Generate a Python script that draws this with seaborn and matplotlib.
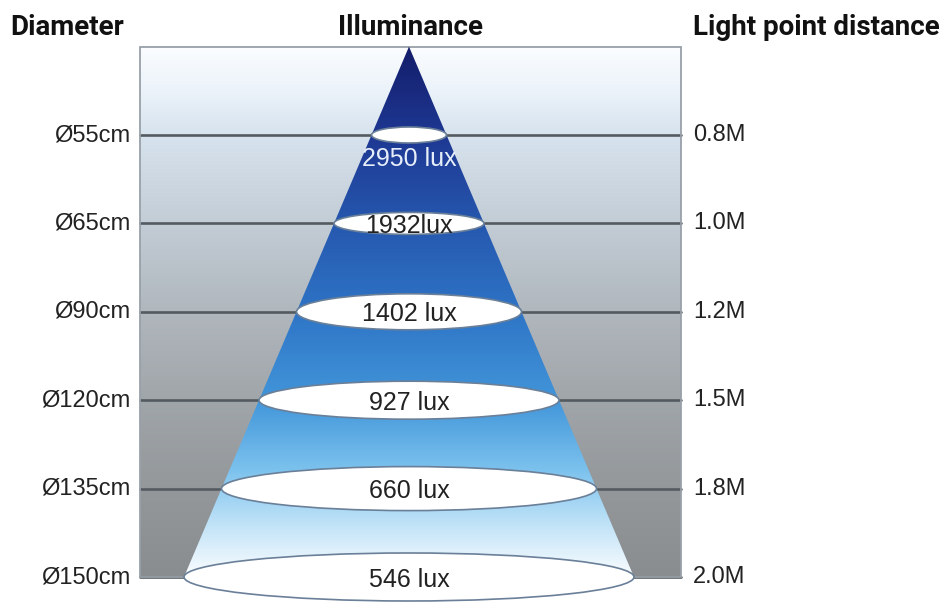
import numpy as np
import pandas as pd
import matplotlib
matplotlib.use("Agg")
import matplotlib.pyplot as plt
import seaborn as sns
from matplotlib.colors import LinearSegmentedColormap
from matplotlib.patches import Polygon, Rectangle, Ellipse

# ---- data ----
headers = ["Diameter", "Illuminance", "Light point distance"]
diameters = ["Ø55cm", "Ø65cm", "Ø90cm", "Ø120cm", "Ø135cm", "Ø150cm"]
illuminance = ["2950 lux", "1932lux", "1402 lux", "927 lux", "660 lux", "546 lux"]
distances = ["0.8M", "1.0M", "1.2M", "1.5M", "1.8M", "2.0M"]

# ---- layout (pixel units on x, row units on y) ----
ROW_PX, ROW0_PX = 88.4, 135
BOX_L, BOX_R = 140, 681
CX = 409
CONE_HALF_BOTTOM = 225
ELL_HALF_H_PX = [8, 11, 18, 19, 22, 24]

sns.set_theme(style="white")
plt.rcParams["font.family"] = ["Liberation Sans", "DejaVu Sans"]

fig = plt.figure(figsize=(9.45, 6.04), dpi=100)
ax = fig.add_axes([0, 0, 1, 1])
ax.axis("off")

rows = np.arange(len(diameters))
top = -1.0
bot = rows[-1]

# background gradient box
bg_cmap = LinearSegmentedColormap.from_list(
    "bg",
    [(0.0, "#fbfdff"), (0.08, "#ecf3fa"), (0.17, "#d6e2ed"), (0.33, "#c3cdd6"),
     (0.5, "#b0b7bd"), (0.67, "#a0a5a9"), (0.83, "#94989b"), (1.0, "#898d90")])
grad = np.linspace(0, 1, 256)[:, None]
ax.imshow(grad, cmap=bg_cmap, extent=(BOX_L, BOX_R, bot, top), origin="upper",
          aspect="auto", zorder=1, interpolation="bicubic")

# horizontal row lines via seaborn
line_df = pd.DataFrame({
    "x": np.tile([BOX_L, BOX_R], len(rows)),
    "y": np.repeat(rows, 2).astype(float),
    "row": np.repeat(rows, 2),
})
sns.lineplot(data=line_df, x="x", y="y", units="row", estimator=None, sort=False,
             color="#545b60", linewidth=1.9, ax=ax, zorder=2, legend=False)

ax.add_patch(Rectangle((BOX_L, top), BOX_R - BOX_L, bot - top, fill=False,
                       edgecolor="#98a0a8", linewidth=1.3, zorder=2.5))

# cone with gradient
cone_cmap = LinearSegmentedColormap.from_list(
    "cone",
    [(0.0, "#141d6a"), (0.17, "#1e3893"), (0.33, "#2657ae"), (0.5, "#2e74c6"),
     (0.67, "#4296da"), (0.8, "#7cc2ee"), (0.9, "#bfe2f7"), (1.0, "#fbfdff")])
cone = Polygon([(CX, top), (CX - CONE_HALF_BOTTOM, bot), (CX + CONE_HALF_BOTTOM, bot)],
               closed=True, facecolor="none", edgecolor="none", zorder=3)
ax.add_patch(cone)
im = ax.imshow(grad, cmap=cone_cmap,
               extent=(CX - CONE_HALF_BOTTOM, CX + CONE_HALF_BOTTOM, bot, top),
               origin="upper", aspect="auto", zorder=3, interpolation="bicubic")
im.set_clip_path(cone)

# ellipses (light spots)
for r, hh in zip(rows, ELL_HALF_H_PX):
    half_w = (r - top) / (bot - top) * CONE_HALF_BOTTOM
    ax.add_patch(Ellipse((CX, r), 2 * half_w, 2 * hh / ROW_PX, facecolor="white",
                         edgecolor="#6a7f98", linewidth=1.2, zorder=4))

# labels
for r, d, lux, dist in zip(rows, diameters, illuminance, distances):
    ax.text(130, r, d, ha="right", va="center", fontsize=17, color="#222222", zorder=5)
    ax.text(693, r, dist, ha="left", va="center", fontsize=17, color="#222222", zorder=5)
    if r == 0:
        ax.text(CX, r + 0.27, lux, ha="center", va="center", fontsize=18,
                color="#e6eef9", zorder=5)
    else:
        ax.text(CX, r + 0.03, lux, ha="center", va="center", fontsize=18,
                color="#222222", zorder=5)

hy = (27 - ROW0_PX) / ROW_PX
for x, h, ha in zip([10, 410, 940], headers, ["left", "center", "right"]):
    ax.text(x, hy, h, ha=ha, va="center", fontsize=20, fontweight="bold",
            family=["Roboto", "DejaVu Sans"], color="#111111")

ax.set_xlim(0, 945)
ax.set_ylim((604 - ROW0_PX) / ROW_PX, -ROW0_PX / ROW_PX)
ax.axis("off")

fig.savefig("out.png", dpi=100)
